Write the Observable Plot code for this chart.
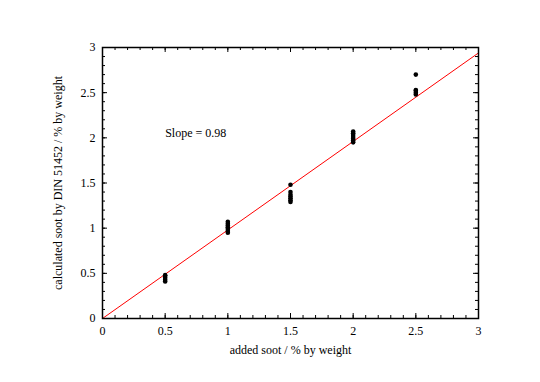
<!DOCTYPE html>
<html>
<head>
<meta charset="utf-8">
<script src="https://cdn.jsdelivr.net/npm/d3@7"></script>
<script src="https://cdn.jsdelivr.net/npm/@observablehq/plot@0.6"></script>
<style>
html, body { margin: 0; padding: 0; background: #fff; }
svg { display: block; }
svg text { font-family: "Liberation Serif", "Times New Roman", serif; }
</style>
</head>
<body>
<div id="chart"></div>
<script>
const addedSoot = [0.5,0.5,0.5,0.5,0.5, 1,1,1,1,1,1,1, 1.5,1.5,1.5,1.5,1.5,1.5,1.5, 2,2,2,2,2,2,2, 2.5,2.5,2.5,2.5,2.5];
const calcSoot  = [0.41,0.43,0.45,0.47,0.48, 0.95,0.97,0.99,1.01,1.03,1.05,1.07, 1.48,1.29,1.31,1.33,1.35,1.37,1.40, 1.95,1.97,1.99,2.01,2.03,2.05,2.07, 2.70,2.48,2.50,2.52,2.53];
const slope = 0.98;
const fitX = [0, 3];
const majorTicks = [0, 0.5, 1, 1.5, 2, 2.5, 3];
const minorTicks = d3.range(0, 31).map(i => i / 10);
const annotation = "Slope = 0.98";
const annotationPos = [0.5, 2.05];
const xLabel = "added soot / % by weight";
const yLabel = "calculated soot by DIN 51452 / % by weight";

const points = addedSoot.map((x, i) => ({x, y: calcSoot[i]}));
const fit = fitX.map(x => ({x, y: slope * x}));

const W = 540, H = 382;
const mt = 47, mb = 64, ml = 102, mr = 62;
const innerH = H - mt - mb, innerW = W - ml - mr;
const majLen = 5, minLen = 3;

const chart = Plot.plot({
  width: W, height: H,
  marginTop: mt, marginBottom: mb, marginLeft: ml, marginRight: mr,
  style: {fontFamily: "'Liberation Serif', serif", fontSize: "12px", color: "#000", background: "#fff"},
  x: {domain: [0, 3]},
  y: {domain: [0, 3]},
  marks: [
    Plot.axisX({anchor: "bottom", ticks: majorTicks, tickSize: 0, tickPadding: 8, tickFormat: d => String(d), fontSize: 12,
      label: xLabel, labelAnchor: "center", labelArrow: "none", labelOffset: 35, fill: "#000"}),
    Plot.axisY({anchor: "left", ticks: majorTicks, tickSize: 0, tickPadding: 7, tickFormat: d => String(d), fontSize: 12,
      label: yLabel, labelAnchor: "center", labelArrow: "none", labelOffset: 49, fill: "#000"}),
    // minor ticks (inward)
    Plot.tickX(minorTicks, {x: d => d, insetTop: innerH - minLen, stroke: "#000", strokeWidth: 1}),
    Plot.tickX(minorTicks, {x: d => d, insetBottom: innerH - minLen, stroke: "#000", strokeWidth: 1}),
    Plot.tickY(minorTicks, {y: d => d, insetRight: innerW - minLen, stroke: "#000", strokeWidth: 1}),
    Plot.tickY(minorTicks, {y: d => d, insetLeft: innerW - minLen, stroke: "#000", strokeWidth: 1}),
    // major ticks (inward)
    Plot.tickX(majorTicks, {x: d => d, insetTop: innerH - majLen, stroke: "#000", strokeWidth: 1}),
    Plot.tickX(majorTicks, {x: d => d, insetBottom: innerH - majLen, stroke: "#000", strokeWidth: 1}),
    Plot.tickY(majorTicks, {y: d => d, insetRight: innerW - majLen, stroke: "#000", strokeWidth: 1}),
    Plot.tickY(majorTicks, {y: d => d, insetLeft: innerW - majLen, stroke: "#000", strokeWidth: 1}),
    Plot.line(fit, {x: "x", y: "y", stroke: "#ff0000", strokeWidth: 1}),
    Plot.dot(points, {x: "x", y: "y", r: 2.3, fill: "#000", stroke: "none"}),
    Plot.text([annotation], {x: () => annotationPos[0], y: () => annotationPos[1], text: d => d, textAnchor: "start", fontSize: 12, fill: "#000"}),
    Plot.frame({stroke: "#000", strokeWidth: 1.5})
  ]
});
document.getElementById("chart").appendChild(chart);
</script>
</body>
</html>
